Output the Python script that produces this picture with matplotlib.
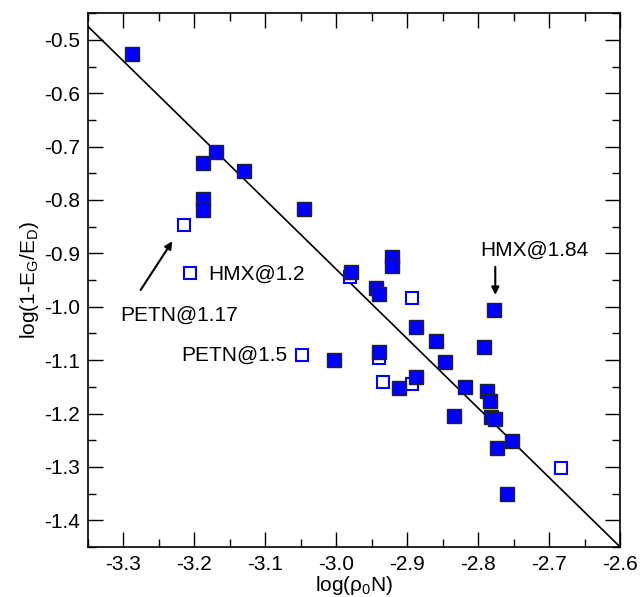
import numpy as np
import matplotlib
matplotlib.use("Agg")
import matplotlib.pyplot as plt
from matplotlib.ticker import MultipleLocator

plt.rcParams['font.family'] = ['Liberation Sans', 'DejaVu Sans']
plt.rcParams['mathtext.fontset'] = 'custom'
plt.rcParams['mathtext.rm'] = 'Liberation Sans'
plt.rcParams['mathtext.it'] = 'Liberation Sans'

# filled squares (measured data)
x_filled = [-3.288, -3.188, -3.169, -3.130, -3.188, -3.188, -3.046, -2.980,
            -2.921, -2.921, -2.944, -2.940, -2.778, -2.888, -2.859, -2.792,
            -2.940, -3.003, -2.847, -2.911, -2.888, -2.818, -2.787, -2.784,
            -2.782, -2.776, -2.834, -2.753, -2.773, -2.759]
y_filled = [-0.527, -0.731, -0.711, -0.746, -0.798, -0.818, -0.816, -0.934,
            -0.906, -0.923, -0.964, -0.976, -1.007, -1.038, -1.064, -1.075,
            -1.084, -1.100, -1.104, -1.152, -1.132, -1.151, -1.157, -1.177,
            -1.207, -1.210, -1.204, -1.251, -1.264, -1.350]

# open squares (low density cases)
x_open = [-3.215, -3.206, -2.981, -2.894, -2.940, -3.049, -2.934, -2.893, -2.683]
y_open = [-0.846, -0.936, -0.944, -0.984, -1.096, -1.090, -1.141, -1.144, -1.303]

# fitted line
fit_slope = -1.3
fit_icpt = -4.83

fig = plt.figure(figsize=(6.4, 5.97), dpi=100)
ax = fig.add_axes([0.1375, 0.0838, 0.8315, 0.8942])

xl = np.array([-3.35, -2.6])
ax.plot(xl, fit_icpt + fit_slope * xl, color='black', lw=1.2, zorder=1)

ax.plot(x_open, y_open, 's', ms=9.3, mfc='white', mec='#0000ff', mew=1.5, zorder=2)
ax.plot(x_filled, y_filled, 's', ms=9.6, mfc='#0000ff', mec='#222222', mew=1.0, zorder=3)

# labels
fs = 15
ax.text(-3.181, -0.939, 'HMX@1.2', fontsize=fs, va='center', ha='left')
ax.text(-3.304, -1.015, 'PETN@1.17', fontsize=fs, va='center', ha='left')
ax.text(-3.069, -1.090, 'PETN@1.5', fontsize=fs, va='center', ha='right')
ax.text(-2.721, -0.895, 'HMX@1.84', fontsize=fs, va='center', ha='center')
ax.annotate('', xy=(-3.229, -0.873), xytext=(-3.278, -0.973),
            arrowprops=dict(arrowstyle='-|>', color='black', lw=1.5, mutation_scale=11))
ax.annotate('', xy=(-2.776, -0.983), xytext=(-2.776, -0.920),
            arrowprops=dict(arrowstyle='-|>', color='black', lw=1.5, mutation_scale=11))

ax.set_xlim(-3.35, -2.6)
ax.set_ylim(-1.45, -0.45)
ax.xaxis.set_major_locator(MultipleLocator(0.1))
ax.xaxis.set_minor_locator(MultipleLocator(0.05))
ax.yaxis.set_major_locator(MultipleLocator(0.1))
ax.yaxis.set_minor_locator(MultipleLocator(0.05))
ax.xaxis.set_major_formatter(plt.FuncFormatter(lambda v, p: f'{v:.1f}'))
ax.yaxis.set_major_formatter(plt.FuncFormatter(lambda v, p: f'{v:.1f}'))
ax.tick_params(which='both', direction='in', top=True, right=True, labelsize=fs, width=1.0)
ax.tick_params(which='major', length=11, pad=6)
ax.tick_params(which='minor', length=6)
for s in ax.spines.values():
    s.set_linewidth(1.2)

ax.set_xlabel(r'log($\rho_0$N)', fontsize=fs, labelpad=0)
ax.set_ylabel(r'log(1-E$_G$/E$_D$)', fontsize=fs, labelpad=2)

fig.savefig('out.png', dpi=100)
